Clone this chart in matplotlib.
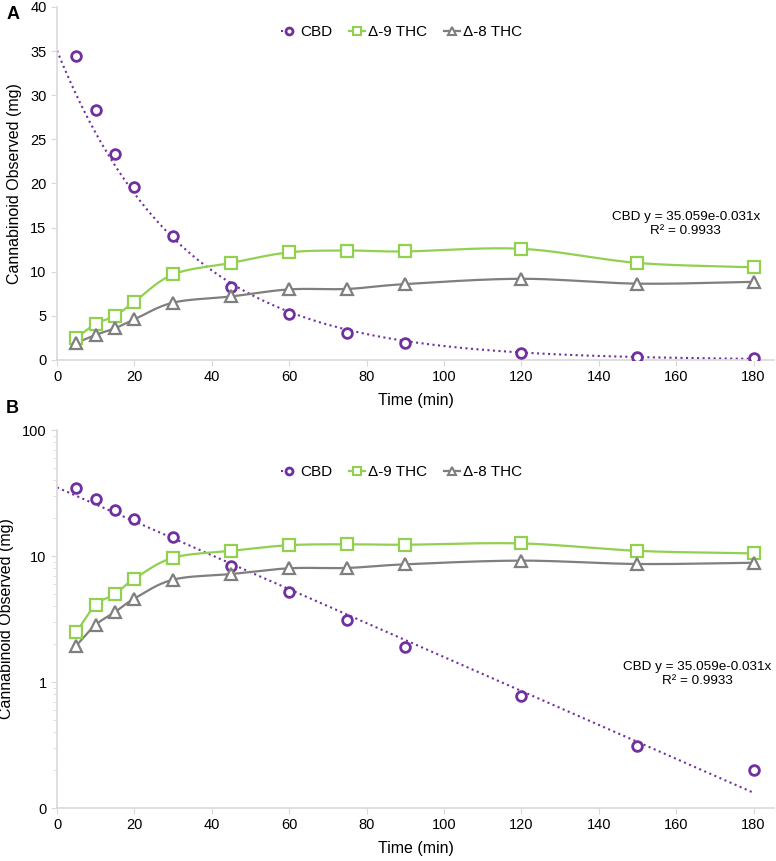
import numpy as np
import matplotlib
matplotlib.use("Agg")
import matplotlib.pyplot as plt
from matplotlib.ticker import FixedLocator, LogLocator, NullFormatter

plt.rcParams['font.family'] = ['Liberation Sans', 'DejaVu Sans']

# === DATA ===
time_min = [5, 10, 15, 20, 30, 45, 60, 75, 90, 120, 150, 180]
cbd = [34.5, 28.3, 23.3, 19.6, 14.1, 8.3, 5.2, 3.1, 1.9, 0.78, 0.31, 0.2]
thc9 = [2.5, 4.1, 5.0, 6.6, 9.7, 11.0, 12.2, 12.4, 12.3, 12.6, 11.0, 10.5]
thc8 = [1.95, 2.85, 3.6, 4.6, 6.5, 7.2, 8.0, 8.05, 8.6, 9.2, 8.65, 8.85]
fit_a, fit_k = 35.059, 0.031
fit_text = "CBD y = 35.059e-0.031x\nR² = 0.9933"

PURPLE = '#7030A0'
GREEN = '#92D050'
GREY = '#7F7F7F'
AXIS = '#D9D9D9'


def smooth(x, y, n=20):
    # Catmull-Rom style smoothing like Excel's "smoothed line"
    x = np.asarray(x, float)
    y = np.asarray(y, float)
    px = np.concatenate([[2 * x[0] - x[1]], x, [2 * x[-1] - x[-2]]])
    py = np.concatenate([[2 * y[0] - y[1]], y, [2 * y[-1] - y[-2]]])
    xs, ys = [], []
    t = np.linspace(0, 1, n)
    for i in range(1, len(px) - 2):
        p0, p1, p2, p3 = (np.array([px[j], py[j]]) for j in range(i - 1, i + 3))
        b1 = p1 + (p2 - p0) / 6
        b2 = p2 - (p3 - p1) / 6
        pts = ((1 - t) ** 3)[:, None] * p1 + (3 * (1 - t) ** 2 * t)[:, None] * b1 \
            + (3 * (1 - t) * t ** 2)[:, None] * b2 + (t ** 3)[:, None] * p2
        xs.extend(pts[:, 0])
        ys.extend(pts[:, 1])
    return np.array(xs), np.array(ys)


def draw(ax, log=False, leg_y=0.929):
    xf = np.linspace(0, 180, 300)
    yf = fit_a * np.exp(-fit_k * xf)
    ax.plot(xf, yf, ':', color=PURPLE, lw=1.5, zorder=2)
    ax.plot(time_min, cbd, 'o', mfc='white', mec=PURPLE, mew=2, ms=7, zorder=4)
    for vals, col, mk in [(thc9, GREEN, 's'), (thc8, GREY, '^')]:
        if log:
            sx, sy = smooth(time_min, np.log10(vals))
            sy = 10 ** sy
        else:
            sx, sy = smooth(time_min, vals)
        ax.plot(sx, sy, '-', color=col, lw=1.6, zorder=3)
        ax.plot(time_min, vals, mk, mfc='white', mec=col, mew=1.6, ms=8, zorder=4)

    # legend proxies
    h1, = ax.plot([], [], ':', color=PURPLE, lw=1.5, marker='o', mfc='white', mec=PURPLE, mew=2, ms=5)
    h2, = ax.plot([], [], '-', color=GREEN, lw=1.6, marker='s', mfc='white', mec=GREEN, mew=1.5, ms=6)
    h3, = ax.plot([], [], '-', color=GREY, lw=1.6, marker='^', mfc='white', mec=GREY, mew=1.5, ms=6)
    ax.legend([h1, h2, h3], ['CBD', 'Δ-9 THC', 'Δ-8 THC'], ncol=3, frameon=False,
              loc='center', bbox_to_anchor=(0.481, leg_y),
              fontsize=11, handlelength=1.0, handletextpad=0.25, columnspacing=1.1)

    ax.set_xlim(0, 185.3)
    ax.set_xticks(range(0, 181, 20))
    ax.set_xlabel('Time (min)', fontsize=11.5, labelpad=6)
    ax.set_ylabel('Cannabinoid Observed (mg)', fontsize=11.5, labelpad=6)
    for s in ['top', 'right']:
        ax.spines[s].set_visible(False)
    for s in ['left', 'bottom']:
        ax.spines[s].set_color(AXIS)
        ax.spines[s].set_linewidth(1.2)
    ax.tick_params(which='both', colors=AXIS, labelcolor='black', labelsize=10.5, length=4)


fig = plt.figure(figsize=(7.76, 8.61), dpi=100)
axA = fig.add_axes([0.0735, 0.5819, 0.9240, 0.410])
axB = fig.add_axes([0.0735, 0.0615, 0.9240, 0.4390])

draw(axA, leg_y=0.929)
axA.set_ylim(0, 40)
axA.set_yticks(range(0, 41, 5))
axA.text(0.877, 0.385, fit_text, transform=axA.transAxes, ha='center', va='center',
         fontsize=9.7, linespacing=1.25)

axB.set_yscale('log')
draw(axB, log=True, leg_y=0.889)
axB.set_ylim(0.1, 100)
axB.yaxis.set_major_locator(FixedLocator([0.1, 1, 10, 100]))
axB.set_yticklabels(['0', '1', '10', '100'])
axB.yaxis.set_minor_locator(LogLocator(base=10, subs=np.arange(2, 10)))
axB.yaxis.set_minor_formatter(NullFormatter())
axB.tick_params(axis='y', which='minor', length=3, colors=AXIS)
axB.text(0.893, 0.354, fit_text, transform=axB.transAxes, ha='center', va='center',
         fontsize=9.7, linespacing=1.25)

fig.text(0.008, 0.993, 'A', fontsize=13, fontweight='bold', va='top')
fig.text(0.008, 0.535, 'B', fontsize=13, fontweight='bold', va='top')

fig.savefig('out.png', dpi=100)
